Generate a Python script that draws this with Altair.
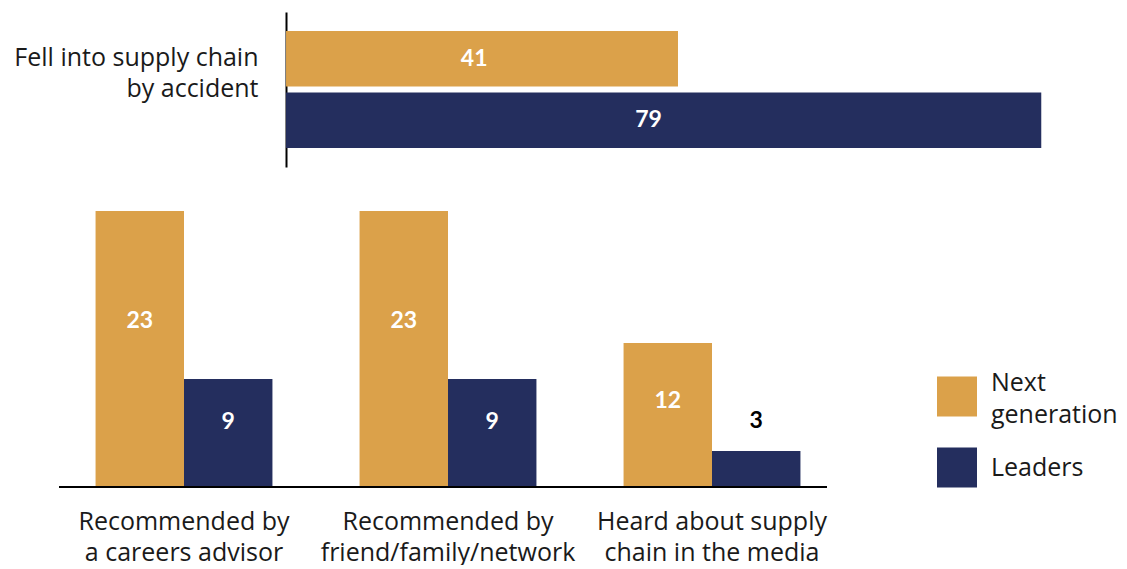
import altair as alt
import pandas as pd

series = ["Next generation", "Leaders"]
colors = ["#DBA14A", "#242E5E"]

top_categories = ["Fell into supply chain|by accident"]
top_next = [41]
top_leaders = [79]

bottom_categories = [
    "Recommended by|a careers advisor",
    "Recommended by|friend/family/network",
    "Heard about supply|chain in the media",
]
bottom_next = [23, 23, 12]
bottom_leaders = [9, 9, 3]


def frame(cats, nxt, ldr):
    rows = []
    for c, a, b in zip(cats, nxt, ldr):
        rows.append({"category": c, "series": series[0], "value": a})
        rows.append({"category": c, "series": series[1], "value": b})
    return pd.DataFrame(rows)


top_df = frame(top_categories, top_next, top_leaders)
bottom_df = frame(bottom_categories, bottom_next, bottom_leaders)
legend_df = pd.DataFrame({"series": series})

FONT = "Open Sans"
NUMFONT = "Lato"
TXT = "#1a1a1a"
FS = 25

color_enc = alt.Color(
    "series:N",
    sort=series,
    scale=alt.Scale(domain=series, range=colors),
    legend=None,
)

# ---- top: horizontal bars ----
top_x = alt.Scale(domain=[-24.48, 80.96], nice=False, zero=False)
top_y = alt.Y(
    "category:N",
    sort=top_categories,
    scale=alt.Scale(paddingInner=0, paddingOuter=0.162),
    axis=alt.Axis(
        title=None,
        labelExpr="split(datum.label, '|')",
        offset=-234,
        domain=True,
        domainColor="black",
        domainWidth=2,
        ticks=False,
        labelPadding=28,
        labelFontSize=FS,
        labelFont=FONT,
        labelColor=TXT,
        labelLineHeight=31,
        labelOffset=-32,
        labelLimit=400,
        labelAlign="right",
    ),
)
top_yoff = alt.YOffset(
    "series:N", sort=series, scale=alt.Scale(paddingInner=0.1, paddingOuter=0)
)

top_base = alt.Chart(top_df)
top_bars = top_base.mark_bar().encode(
    x=alt.X("value:Q", scale=top_x, axis=None),
    x2=alt.datum(0),
    y=top_y,
    yOffset=top_yoff,
    color=color_enc,
)
top_text = top_base.transform_calculate(mid="datum.value * 0.48").mark_text(
    color="white", fontSize=23, fontWeight="bold", font=NUMFONT, baseline="middle"
).encode(
    x=alt.X("mid:Q", scale=top_x, axis=None),
    y=top_y,
    yOffset=top_yoff,
    text="value:Q",
)
top = alt.layer(top_bars, top_text).properties(width=1008, height=155)

# ---- bottom: grouped vertical bars ----
bx = alt.X(
    "category:N",
    sort=bottom_categories,
    scale=alt.Scale(paddingInner=0.33, paddingOuter=0.165),
    axis=alt.Axis(
        title=None,
        labelExpr="split(datum.label, '|')",
        labelAngle=0,
        domain=False,
        ticks=False,
        labelPadding=22,
        labelFontSize=FS,
        labelFont=FONT,
        labelColor=TXT,
        labelLineHeight=31,
        labelBaseline="top",
        labelLimit=400,
    ),
)
bxoff = alt.XOffset(
    "series:N", sort=series, scale=alt.Scale(paddingInner=0, paddingOuter=0)
)
by_scale = alt.Scale(domain=[0, 25], nice=False)

bottom_base = alt.Chart(bottom_df)
bottom_bars = bottom_base.mark_bar().encode(
    x=bx,
    xOffset=bxoff,
    y=alt.Y("value:Q", scale=by_scale, axis=None),
    color=color_enc,
)
bottom_text = bottom_base.transform_calculate(
    pos="datum.value >= 5 ? datum.value * 0.6 : datum.value + 2.5"
).mark_text(fontSize=23, fontWeight="bold", font=NUMFONT, baseline="middle").encode(
    x=bx,
    xOffset=bxoff,
    y=alt.Y("pos:Q", scale=by_scale, axis=None),
    text="value:Q",
    color=alt.condition("datum.value >= 5", alt.value("white"), alt.value("black")),
)
baseline_rule = alt.Chart(pd.DataFrame({"a": [0]})).mark_rule(
    color="black", strokeWidth=2
).encode(x=alt.value(7), x2=alt.value(775), y=alt.value(300))

# ---- legend drawn as marks ----
leg_y = alt.Y(
    "series:N",
    sort=series,
    scale=alt.Scale(domain=series, type="point", range=[209.5, 280.5], padding=0),
    axis=None,
)
legend_sq = alt.Chart(legend_df).mark_square(size=1600, opacity=1).encode(
    x=alt.value(905), y=leg_y, color=color_enc
)
leg_base = alt.Chart(legend_df).transform_calculate(
    lines="split(datum.series, ' ')", multi="indexof(datum.series, ' ') >= 0"
)
legend_txt_multi = (
    leg_base.transform_filter("datum.multi")
    .mark_text(
        align="left", baseline="middle", fontSize=FS, font=FONT, color=TXT,
        lineHeight=32, dy=-14,
    )
    .encode(x=alt.value(939), y=leg_y, text="lines:N")
)
legend_txt_single = (
    leg_base.transform_filter("!datum.multi")
    .mark_text(align="left", baseline="middle", fontSize=FS, font=FONT, color=TXT)
    .encode(x=alt.value(939), y=leg_y, text="series:N")
)

bottom = (
    alt.layer(
        bottom_bars, bottom_text, baseline_rule, legend_sq, legend_txt_multi,
        legend_txt_single,
    )
    .resolve_scale(y="independent")
    .properties(width=792, height=300)
)

chart = (
    alt.vconcat(top, bottom, spacing=20, bounds="flush")
    .properties(padding={"left": 13, "top": 12, "right": 0, "bottom": 0})
    .configure(font=FONT)
    .configure_view(stroke=None)
)

chart.save("out.html", embed_options={"renderer": "svg", "actions": False})
